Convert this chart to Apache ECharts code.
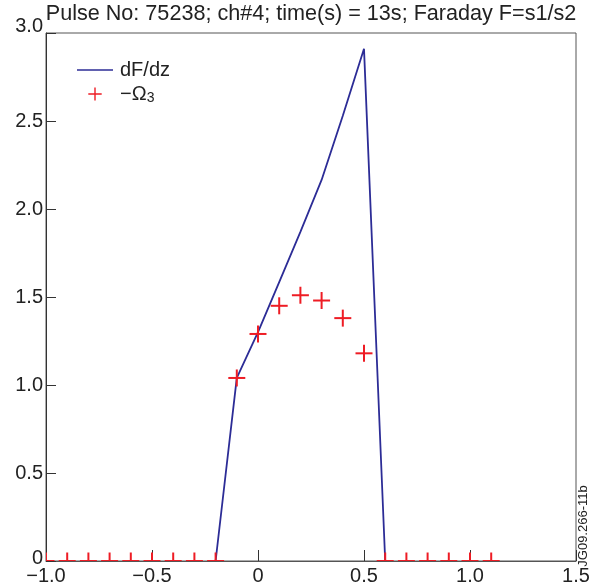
<!DOCTYPE html>
<html>
<head>
<meta charset="utf-8">
<script src="https://cdn.jsdelivr.net/npm/echarts@6/dist/echarts.min.js"></script>
<style>
  html, body { margin: 0; padding: 0; background: #fff; }
  #chart { width: 599px; height: 588px; }
</style>
</head>
<body>
<div id="chart"></div>
<script>
// Text
const titleText = 'Pulse No: 75238; ch#4; time(s) = 13s; Faraday F=s1/s2';
const figureTag = 'JG09.266-11b';
const lineName = 'dF/dz';
const markName = '−Ω3';

// Axis ticks
const xTicks = [-1.0, -0.5, 0, 0.5, 1.0, 1.5];
const yTicks = [0, 0.5, 1.0, 1.5, 2.0, 2.5, 3.0];

// dF/dz profile
const dfdzX = [-0.2, -0.1, 0.0, 0.1, 0.2, 0.3, 0.4, 0.5, 0.6];
const dfdzY = [0, 1.04, 1.30, 1.585, 1.87, 2.165, 2.53, 2.91, 0];

// −Ω3 samples
const omegaX = [-1.0, -0.9, -0.8, -0.7, -0.6, -0.5, -0.4, -0.3, -0.2, -0.1, 0.0,
                0.1, 0.2, 0.3, 0.4, 0.5, 0.6, 0.7, 0.8, 0.9, 1.0, 1.1];
const omegaY = [0, 0, 0, 0, 0, 0, 0, 0, 0, 1.04, 1.29,
                1.45, 1.51, 1.48, 1.38, 1.18, 0, 0, 0, 0, 0, 0];

const FONT = '"Liberation Sans", Arial, Helvetica, sans-serif';
const BLUE = '#2c2c96';
const RED = '#ee1c24';
const INK = '#222';
const FRAME = '#555';

const minus = s => s.replace('-', '\u2212');
const fmtTick = v => (v === 0 ? '0' : minus(v.toFixed(1)));

const chart = echarts.init(document.getElementById('chart'), null, { renderer: 'canvas' });

// Legend icons drawn in a 36x14 box so their proportions are kept
const lineIcon = 'path://M0,0M36,14M0,6.2h36v1.6h-36z';
const plusIcon = 'path://M0,0M36,14M17.3,0.5h1.4v5.8h6v1.4h-6v5.8h-1.4v-5.8h-6v-1.4h6z';

chart.setOption({
  animation: false,
  backgroundColor: '#fff',
  textStyle: { fontFamily: FONT },
  title: {
    text: titleText,
    left: 311,
    top: 3,
    textAlign: 'center',
    padding: 0,
    textStyle: { fontFamily: FONT, fontSize: 21.6, fontWeight: 'normal', color: INK }
  },
  grid: {
    left: 46, right: 23, top: 33, bottom: 27,
    show: true, borderColor: FRAME, borderWidth: 1, backgroundColor: 'transparent',
    containLabel: false
  },
  legend: {
    orient: 'vertical',
    left: 77,
    top: 59,
    padding: 0,
    itemGap: 2,
    itemWidth: 36,
    itemHeight: 14,
    selectedMode: false,
    data: [
      { name: lineName, icon: lineIcon, itemStyle: { color: BLUE } },
      { name: markName, icon: plusIcon, itemStyle: { color: RED } }
    ],
    formatter: name => (name === markName ? '−Ω{sub|3}' : name),
    textStyle: {
      fontFamily: FONT, fontSize: 20, color: INK, lineHeight: 22, padding: [0, 0, 0, 2],
      rich: {
        sub: { fontFamily: FONT, fontSize: 14, color: INK, lineHeight: 8, verticalAlign: 'bottom' }
      }
    }
  },
  xAxis: {
    type: 'value',
    min: xTicks[0],
    max: xTicks[xTicks.length - 1],
    interval: xTicks[1] - xTicks[0],
    axisLine: { show: true, onZero: false, lineStyle: { color: FRAME, width: 1 } },
    axisTick: { show: true, inside: true, length: 11, lineStyle: { color: '#333', width: 1 } },
    splitLine: { show: false },
    axisLabel: {
      show: true, margin: 5, color: INK, fontFamily: FONT, fontSize: 20,
      formatter: fmtTick
    }
  },
  yAxis: {
    type: 'value',
    min: yTicks[0],
    max: yTicks[yTicks.length - 1],
    interval: yTicks[1] - yTicks[0],
    axisLine: { show: true, onZero: false, lineStyle: { color: '#333', width: 1 } },
    axisTick: { show: true, inside: true, length: 10, lineStyle: { color: '#333', width: 1 } },
    splitLine: { show: false },
    axisLabel: {
      show: true, margin: 3, color: INK, fontFamily: FONT, fontSize: 20,
      formatter: v => {
        if (v === yTicks[yTicks.length - 1]) return '{top|' + fmtTick(v) + '}';
        if (v === yTicks[0]) return '{low|' + fmtTick(v) + '}';
        return fmtTick(v);
      },
      rich: {
        top: { fontFamily: FONT, fontSize: 20, color: INK, padding: [0, 0, 14, 0] },
        low: { fontFamily: FONT, fontSize: 20, color: INK, padding: [0, 0, 6, 0] }
      }
    }
  },
  series: [
    {
      name: lineName,
      type: 'line',
      data: dfdzX.map((x, i) => [x, dfdzY[i]]),
      symbol: 'none',
      color: BLUE,
      lineStyle: { color: BLUE, width: 1.8 },
      clip: true,
      z: 3
    },
    {
      name: markName,
      type: 'custom',
      data: omegaX.map((x, i) => [x, omegaY[i]]),
      encode: { x: 0, y: 1 },
      clip: true,
      color: RED,
      itemStyle: { color: RED },
      z: 4,
      renderItem: (params, api) => {
        const p = api.coord([api.value(0), api.value(1)]);
        const h = 8.5;
        return {
          type: 'group',
          children: [
            { type: 'line', shape: { x1: p[0] - h, y1: p[1], x2: p[0] + h, y2: p[1] },
              style: { stroke: RED, lineWidth: 2 } },
            { type: 'line', shape: { x1: p[0], y1: p[1] - h, x2: p[0], y2: p[1] + h },
              style: { stroke: RED, lineWidth: 2 } }
          ]
        };
      }
    }
  ],
  graphic: [
    {
      type: 'text',
      x: 583,
      y: 526,
      rotation: Math.PI / 2,
      style: {
        text: figureTag,
        fontFamily: FONT,
        fontSize: 13,
        fill: INK,
        align: 'center',
        verticalAlign: 'middle'
      }
    }
  ]
});
</script>
</body>
</html>
